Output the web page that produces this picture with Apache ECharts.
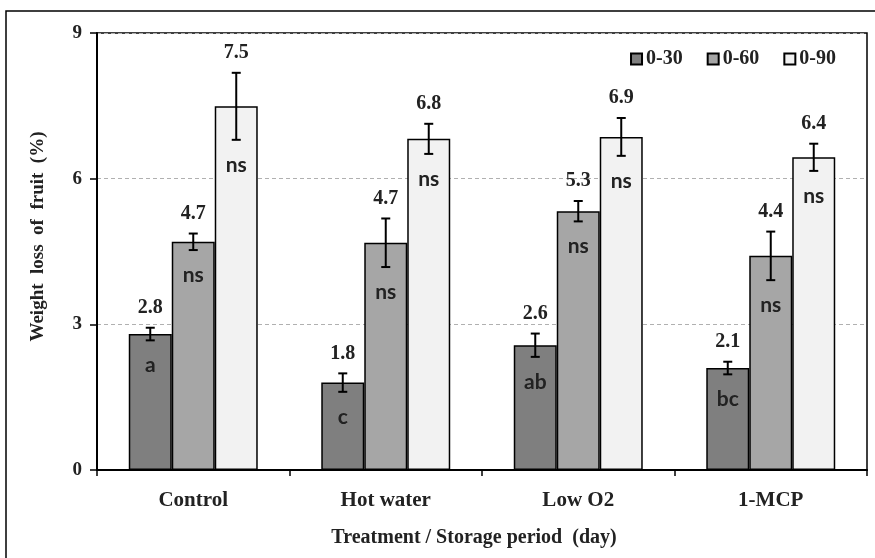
<!DOCTYPE html>
<html>
<head>
<meta charset="utf-8">
<script src="https://cdn.jsdelivr.net/npm/echarts@6/dist/echarts.min.js"></script>
<style>
  html, body { margin: 0; padding: 0; background: #fff; }
  #chart { width: 875px; height: 558px; }
</style>
</head>
<body>
<div id="chart"></div>
<script>
  // data
  const categories = ['Control', 'Hot water', 'Low O2', '1-MCP'];
  const periods = ['0-30', '0-60', '0-90'];
  const loss030 = [2.80, 1.80, 2.57, 2.10];
  const loss060 = [4.70, 4.68, 5.33, 4.41];
  const loss090 = [7.49, 6.82, 6.86, 6.44];
  const err030 = [0.13, 0.19, 0.24, 0.13];
  const err060 = [0.17, 0.50, 0.21, 0.50];
  const err090 = [0.69, 0.31, 0.39, 0.28];
  const letters030 = ['a', 'c', 'ab', 'bc'];
  const letters060 = ['ns', 'ns', 'ns', 'ns'];
  const letters090 = ['ns', 'ns', 'ns', 'ns'];
  const yTicks = [0, 3, 6, 9];

  const colors = ['#7f7f7f', '#a6a6a6', '#f2f2f2'];
  const serif = '"Liberation Serif", "Times New Roman", serif';
  const sans = 'Lato, "Liberation Sans", sans-serif';
  const gapPct = 0.33;

  const values = [loss030, loss060, loss090];
  const errs = [err030, err060, err090];
  const letters = [letters030, letters060, letters090];

  let chart = echarts.init(document.getElementById('chart'));

  function errorSeries(idx) {
    return {
      type: 'custom',
      z: 5,
      data: values[idx].map((v, i) => [i, v, errs[idx][i]]),
      renderItem: function (params, api) {
        let cat = api.value(0), v = api.value(1), e = api.value(2)
        let bandW = api.size([1, 0])[0]
        let barW = bandW * (1 - gapPct) / 3
        let c = api.coord([cat, v])
        let x = c[0] + (idx - 1) * barW
        let top = api.coord([cat, v + e])[1]
        let bot = api.coord([cat, v - e])[1]
        let cap = 4.5
        let ls = { stroke: '#000', lineWidth: 2 }
        return {
          type: 'group',
          children: [
            { type: 'line', shape: { x1: x, y1: top, x2: x, y2: bot }, style: ls },
            { type: 'line', shape: { x1: x - cap, y1: top, x2: x + cap, y2: top }, style: ls },
            { type: 'line', shape: { x1: x - cap, y1: bot, x2: x + cap, y2: bot }, style: ls },
            {
              type: 'text', x: x, y: top - 20,
              style: {
                text: v.toFixed(1), align: 'center', verticalAlign: 'middle',
                font: 'bold 20px ' + serif, fill: '#222'
              }
            },
            {
              type: 'text', x: x, y: bot + 25,
              style: {
                text: letters[idx][cat], align: 'center', verticalAlign: 'middle',
                font: 'bold 21px ' + sans, fill: '#222'
              }
            }
          ]
        }
      }
    }
  }

  let option = {
    animation: false,
    backgroundColor: '#fff',
    graphic: [{
      type: 'rect',
      shape: { x: 6, y: 11, width: 900, height: 600 },
      style: { fill: 'none', stroke: '#000', lineWidth: 1.5 },
      z: 100
    }],
    grid: {
      left: 97, right: 8, top: 33, bottom: 88,
      outerBoundsMode: 'none',
      show: true, borderColor: '#000', borderWidth: 1.5
    },
    legend: {
      data: periods,
      top: 44, right: 34,
      itemWidth: 11, itemHeight: 11, itemGap: 24,
      icon: 'rect',
      textStyle: { fontFamily: serif, fontWeight: 'bold', fontSize: 20, color: '#222', padding: [0, 0, 0, -1] }
    },
    xAxis: {
      type: 'category',
      data: categories,
      name: 'Treatment / Storage period  (day)',
      nameLocation: 'middle',
      nameGap: 58,
      nameTextStyle: { fontFamily: serif, fontWeight: 'bold', fontSize: 20, color: '#222', padding: [0, 16, 0, 0] },
      axisLine: { lineStyle: { color: '#000', width: 2 } },
      axisTick: { show: true, length: 6, lineStyle: { color: '#000', width: 1.5 } },
      axisLabel: { margin: 20, fontFamily: serif, fontWeight: 'bold', fontSize: 21, color: '#222' }
    },
    yAxis: {
      type: 'value',
      min: yTicks[0], max: yTicks[yTicks.length - 1], interval: 3,
      name: 'Weight  loss  of  fruit  (%)',
      nameLocation: 'middle',
      nameGap: 49,
      nameTextStyle: { fontFamily: serif, fontWeight: 'bold', fontSize: 19, color: '#222', padding: [0, 0, 0, 30] },
      axisLine: { show: true, lineStyle: { color: '#000', width: 2 } },
      axisTick: { show: true, length: 7, lineStyle: { color: '#000', width: 1.5 } },
      axisLabel: { margin: 15, fontFamily: serif, fontWeight: 'bold', fontSize: 19, color: '#222' },
      splitLine: { show: true, lineStyle: { color: '#b0b0b0', type: [4, 3], width: 1 } }
    },
    series: [
      ...periods.map((p, i) => ({
        name: p,
        type: 'bar',
        data: values[i],
        barGap: '0%',
        barCategoryGap: '33%',
        itemStyle: { color: colors[i], borderColor: '#000', borderWidth: 1.5 }
      })),
      errorSeries(0), errorSeries(1), errorSeries(2)
    ]
  }

  chart.setOption(option, true)
</script>
</body>
</html>
